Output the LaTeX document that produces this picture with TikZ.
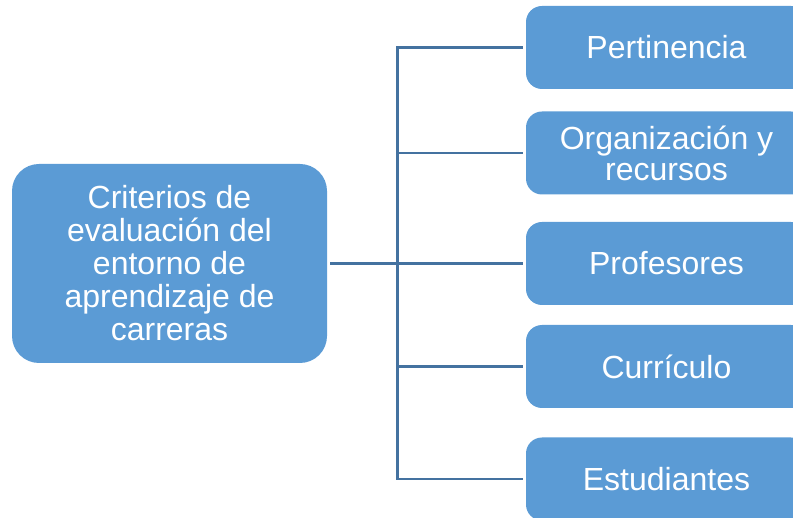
\documentclass[tikz,border=0pt]{standalone}
\usepackage{fontspec}
\setmainfont{Liberation Sans}
\usetikzlibrary{positioning}
\definecolor{boxblue}{RGB}{91,155,213}
\definecolor{lineblue}{RGB}{68,114,160}

\begin{document}
\begin{tikzpicture}[x=1pt, y=-1pt,
	rootbox/.style={rectangle, rounded corners=27pt, fill=boxblue, text=white, minimum width=315pt, minimum height=199pt, align=center, font=\fontsize{32}{33}\selectfont},
	critbox/.style={rectangle, rounded corners=16pt, fill=boxblue, text=white, minimum width=281pt, minimum height=83pt, align=center, font=\fontsize{32}{31}\selectfont},
	link/.style={draw=lineblue, line width=2.5pt}]
	\useasboundingbox (0,0) rectangle (793,518);
	\clip (0,0) rectangle (793,518);

	% Nodes {root, pert, orga, prof, curr, estu}
	\node [rootbox] (root) at (169.5,263.5) {Criterios de\\evaluación del\\entorno de\\aprendizaje de\\carreras};
	\node [critbox] (pert) at (666.5,47.5)  {Pertinencia};
	\node [critbox] (orga) at (666.5,153)   {Organización y\\recursos};
	\node [critbox] (prof) at (666.5,263.5) {Profesores};
	\node [critbox] (curr) at (666.5,366.5) {Currículo};
	\node [critbox] (estu) at (666.5,479)   {Estudiantes};

	% Hub of the connectors
	\coordinate (hub)    at (397.5,263.5);
	\coordinate (hubtop) at (hub |- pert.west);
	\coordinate (hubbot) at (hub |- estu.west);

	% Paths
	\draw [link, shorten <=3pt] (root.east) -- (hub);
	\draw [link] ([yshift=1.25pt]hubtop) -- ([yshift=-1.25pt]hubbot);
	\foreach \c in {pert, orga, prof, curr, estu}
		\draw [link, shorten >=3pt] ([xshift=-1.25pt]hub |- \c.west) -- (\c.west);

\end{tikzpicture}
\end{document}
